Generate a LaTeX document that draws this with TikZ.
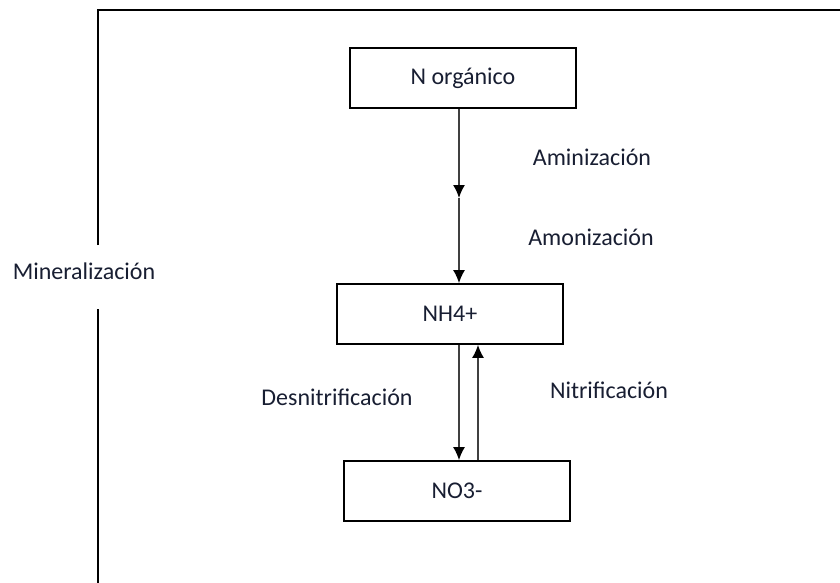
\documentclass[tikz,border=0pt]{standalone}
\usepackage{fontspec}
\setmainfont{Carlito}
\usepackage{tikz}
\usetikzlibrary{arrows.meta}

\definecolor{txt}{RGB}{24,30,50}

\tikzset{
  box/.style = {draw, line width=1.8pt, minimum width=226pt, minimum height=60pt, inner sep=0pt},
  lbl/.style = {text=txt, inner sep=0pt},
  flow/.style = {line width=1.4pt, draw=black!75, -{Latex[length=13pt,width=12pt,color=black]}},
}

\begin{document}
\begin{tikzpicture}[x=1pt, y=-1pt, font=\fontsize{24}{28}\selectfont]
\useasboundingbox (0,0) rectangle (840,583);

\node[box, lbl] (norg) at (463,78) {N orgánico};
\node[box, lbl] (nh4) at (450,314) {NH4+};
\node[box, lbl] (no3) at (457,491) {NO3-};

\coordinate (mid) at (459,198);
\coordinate (xl) at (459,0);
\coordinate (xr) at (478,0);

\draw[flow] (norg.south -| mid) -- (mid);
\draw[flow] (mid) -- (nh4.north -| mid);
\draw[flow] (nh4.south -| xl) -- (no3.north -| xl);
\draw[flow] (no3.north -| xr) -- (nh4.south -| xr);

\node[lbl] (amin) at (592,157) {Aminización};
\node[lbl] (amon) at (591,237) {Amonización};
\node[lbl] (desn) at (337,397) {Desnitrificación};
\node[lbl] (nitr) at (609,390) {Nitrificación};

% bracket
\coordinate (b1) at (98,583);
\coordinate (b2) at (98,309);
\coordinate (b3) at (98,245);
\coordinate (b4) at (98,10);
\coordinate (b5) at (840,10);
\draw[line width=1.8pt] (b1) -- (b2);
\draw[line width=1.8pt] (b3) -- (b4) -- (b5);
\node[lbl] (mine) at (84,271) {Mineralización};

\end{tikzpicture}
\end{document}
